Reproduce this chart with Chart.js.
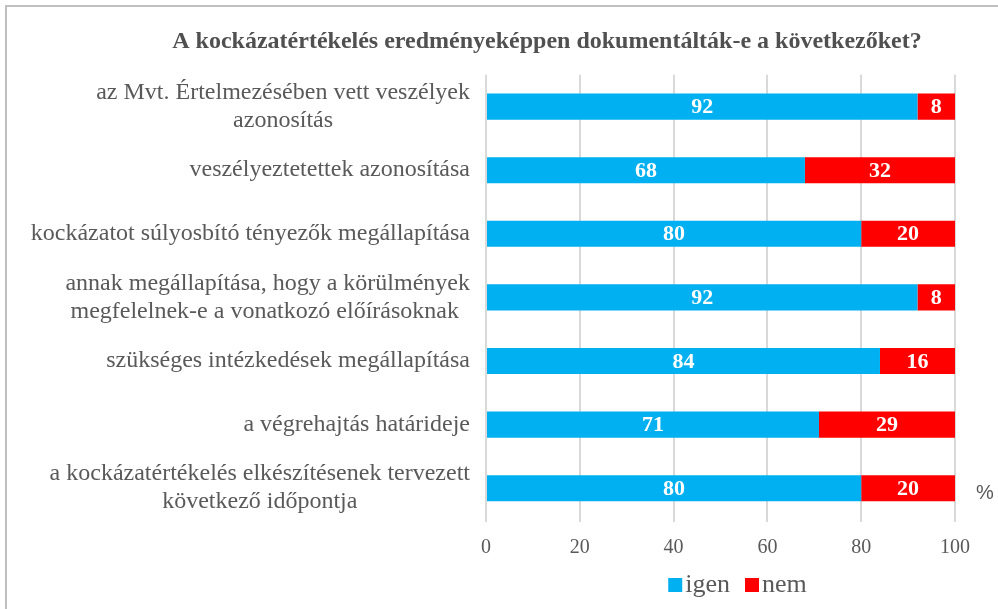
<!DOCTYPE html>
<html>
<head>
<meta charset="utf-8">
<script src="https://cdn.jsdelivr.net/npm/chart.js@4.4.1/dist/chart.umd.min.js"></script>
<style>
  html, body { margin: 0; padding: 0; background: #fff; }
  #wrap { position: relative; width: 998px; height: 609px; overflow: hidden; }
  #frame { position: absolute; left: 5px; top: 5px; width: 1100px; height: 700px;
           border-left: 2px solid #bfbfbf; border-top: 2px solid #bfbfbf; }
  canvas { position: absolute; left: 0; top: 0; }
</style>
</head>
<body>
<div id="wrap">
  <div id="frame"></div>
  <canvas id="chart" width="998" height="609"></canvas>
</div>
<script>
// ── Data ──
const TITLE = 'A kockázatértékelés eredményeképpen dokumentálták-e a következőket?';
const categories = [
  ['az Mvt. Értelmezésében vett veszélyek', 'azonosítás'],
  ['veszélyeztetettek azonosítása'],
  ['kockázatot súlyosbító tényezők megállapítása'],
  ['annak megállapítása, hogy a körülmények', 'megfelelnek-e a vonatkozó előírásoknak '],
  ['szükséges intézkedések megállapítása'],
  ['a végrehajtás határideje'],
  ['a kockázatértékelés elkészítésenek tervezett', 'következő időpontja']
];
const igen = [92, 68, 80, 92, 84, 71, 80];
const nem  = [8, 32, 20, 8, 16, 29, 20];
const xTicks = [0, 20, 40, 60, 80, 100];
const UNIT = '%';

const SERIF = '"Liberation Serif", "Times New Roman", serif';
const GREY = '#595959';

// ── Category labels (Excel style: block right-aligned, lines centered) ──
const catLabels = {
  id: 'catLabels',
  afterDraw(chart) {
    const { ctx, scales: { y, x } } = chart;
    ctx.save();
    ctx.font = '24px ' + SERIF;
    ctx.fillStyle = GREY;
    ctx.textAlign = 'center';
    ctx.textBaseline = 'middle';
    const right = x.left - 16;
    const lh = 28;
    categories.forEach((lines, i) => {
      const cy = y.getPixelForValue(i);
      const w = Math.max(...lines.map(l => ctx.measureText(l.trim()).width));
      const cx = right - w / 2;
      lines.forEach((l, k) => {
        ctx.fillText(l, cx, cy + (k - (lines.length - 1) / 2) * lh);
      });
    });
    // unit label
    ctx.font = '20px "Liberation Sans", Arial, sans-serif';
    ctx.textAlign = 'left';
    ctx.fillText(UNIT, x.right + 21, y.getPixelForValue(categories.length - 1) + 5);
    ctx.restore();
  }
};

// ── Value labels inside bars ──
const valueLabels = {
  id: 'valueLabels',
  afterDatasetsDraw(chart) {
    const { ctx } = chart;
    ctx.save();
    ctx.font = 'bold 22px ' + SERIF;
    ctx.fillStyle = '#ffffff';
    ctx.textAlign = 'center';
    ctx.textBaseline = 'middle';
    chart.data.datasets.forEach((ds, di) => {
      chart.getDatasetMeta(di).data.forEach((bar, i) => {
        const p = bar.getCenterPoint();
        ctx.fillText(String(ds.data[i]), p.x, p.y + 1);
      });
    });
    ctx.restore();
  }
};

// ── Legend (Excel spacing: small box-to-text gap) ──
const excelLegend = {
  id: 'excelLegend',
  afterDraw(chart) {
    const { ctx, chartArea } = chart;
    const ds = chart.data.datasets;
    ctx.save();
    ctx.font = '26px ' + SERIF;
    ctx.textBaseline = 'middle';
    ctx.textAlign = 'left';
    const box = 14, gapIn = 3, gapOut = 15;
    const widths = ds.map(d => box + gapIn + ctx.measureText(d.label).width);
    const total = widths.reduce((a, b) => a + b, 0) + gapOut * (ds.length - 1);
    let x = (chartArea.left + chartArea.right) / 2 + 17 - total / 2;
    const cy = 585;
    ds.forEach((d, i) => {
      ctx.fillStyle = d.backgroundColor;
      ctx.fillRect(x, cy - box / 2, box, box);
      ctx.fillStyle = GREY;
      ctx.fillText(d.label, x + box + gapIn, cy);
      x += widths[i] + gapOut;
    });
    ctx.restore();
  }
};

// ── Centre the title where Excel put it ──
const placeTitle = {
  id: 'placeTitle',
  afterLayout(chart) {
    const t = chart.titleBlock;
    if (t) { t.left = 96; t.right = 998; }
  }
};

new Chart(document.getElementById('chart'), {
  type: 'bar',
  data: {
    labels: categories,
    datasets: [
      { label: 'igen', data: igen, backgroundColor: '#00B0F0', barPercentage: 0.41, categoryPercentage: 1 },
      { label: 'nem', data: nem, backgroundColor: '#FF0000', barPercentage: 0.41, categoryPercentage: 1 }
    ]
  },
  options: {
    indexAxis: 'y',
    responsive: false,
    animation: false,
    layout: { padding: { left: 486, right: 43, top: 27, bottom: 35 } },
    scales: {
      x: {
        stacked: true, min: 0, max: 100,
        afterBuildTicks: s => { s.ticks = xTicks.map(v => ({ value: v })); },
        grid: { color: '#d9d9d9', lineWidth: 2, tickLength: 2, drawTicks: true },
        border: { display: false },
        ticks: { color: GREY, font: { family: SERIF, size: 20 }, padding: 14 }
      },
      y: { stacked: true, display: false }
    },
    plugins: {
      title: {
        display: true, text: TITLE, color: '#505050',
        font: { family: SERIF, size: 24, weight: 'bold' },
        padding: { top: 0, bottom: 19 }
      },
      legend: { display: false },
      tooltip: { enabled: false }
    }
  },
  plugins: [catLabels, valueLabels, excelLegend, placeTitle]
});
</script>
</body>
</html>
